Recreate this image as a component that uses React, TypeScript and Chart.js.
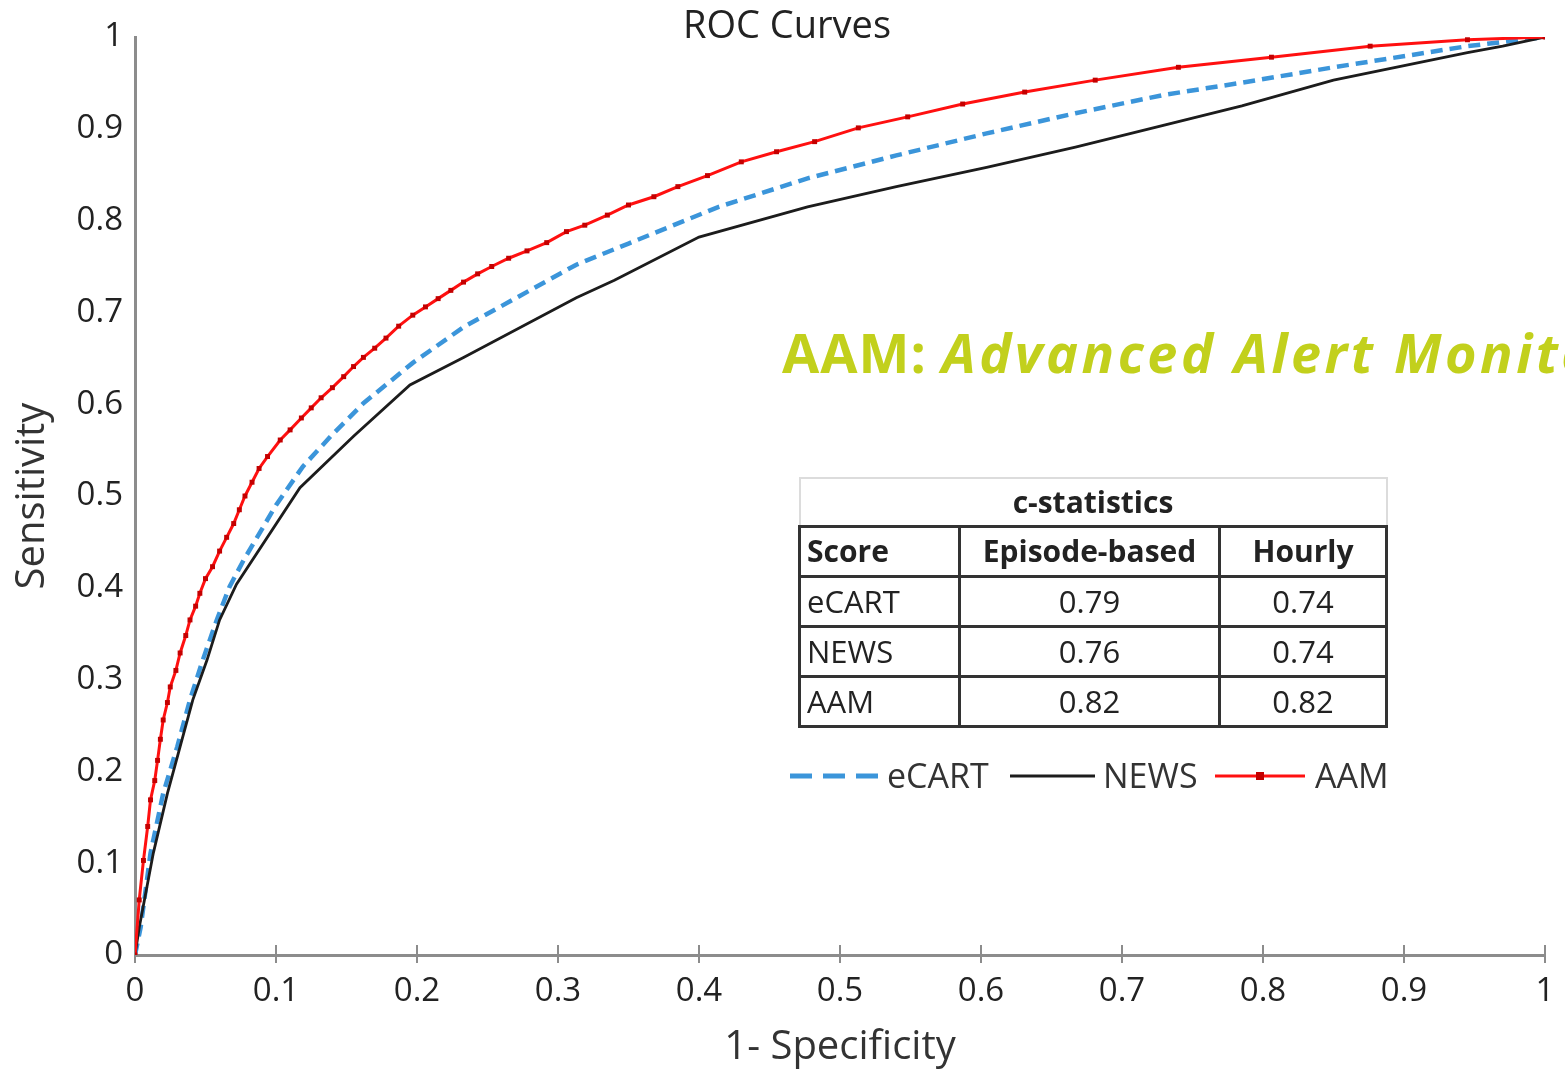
import React, { useEffect, useRef } from 'react';
import { Chart, registerables } from 'chart.js';

Chart.register(...registerables);

const xTickLabels = ['0', '0.1', '0.2', '0.3', '0.4', '0.5', '0.6', '0.7', '0.8', '0.9', '1'];
const yTickLabels = ['0', '0.1', '0.2', '0.3', '0.4', '0.5', '0.6', '0.7', '0.8', '0.9', '1'];

const ecartX = [0, 0.004, 0.011, 0.02, 0.03, 0.039, 0.048, 0.058, 0.067, 0.077, 0.1, 0.119, 0.14, 0.162, 0.197, 0.233, 0.28, 0.313, 0.35, 0.414, 0.477, 0.54, 0.604, 0.667, 0.73, 0.784, 0.85, 0.945, 1];
const ecartY = [0, 0.03, 0.111, 0.176, 0.227, 0.278, 0.321, 0.365, 0.401, 0.43, 0.49, 0.532, 0.567, 0.601, 0.645, 0.684, 0.724, 0.752, 0.775, 0.815, 0.846, 0.871, 0.895, 0.917, 0.937, 0.95, 0.967, 0.99, 1];

const newsX = [0, 0.003, 0.013, 0.023, 0.032, 0.041, 0.051, 0.06, 0.072, 0.117, 0.155, 0.195, 0.233, 0.313, 0.34, 0.4, 0.477, 0.54, 0.604, 0.667, 0.73, 0.785, 0.85, 0.945, 0.97, 1];
const newsY = [0, 0.03, 0.111, 0.176, 0.227, 0.278, 0.321, 0.365, 0.404, 0.509, 0.565, 0.621, 0.651, 0.716, 0.735, 0.782, 0.815, 0.837, 0.858, 0.88, 0.904, 0.925, 0.953, 0.983, 0.99, 1];

const aamX = [0, 0.003, 0.006, 0.009, 0.011, 0.014, 0.016, 0.018, 0.02, 0.023, 0.025, 0.029, 0.032, 0.036, 0.039, 0.043, 0.046, 0.05, 0.055, 0.06, 0.065, 0.07, 0.074, 0.078, 0.083, 0.088, 0.094, 0.103, 0.11, 0.118, 0.125, 0.132, 0.14, 0.148, 0.155, 0.162, 0.17, 0.178, 0.187, 0.197, 0.206, 0.215, 0.224, 0.233, 0.243, 0.253, 0.265, 0.278, 0.292, 0.306, 0.319, 0.335, 0.35, 0.368, 0.385, 0.406, 0.43, 0.455, 0.482, 0.513, 0.548, 0.587, 0.631, 0.681, 0.74, 0.806, 0.876, 0.945, 1];
const aamY = [0, 0.06, 0.103, 0.14, 0.169, 0.19, 0.212, 0.235, 0.256, 0.275, 0.292, 0.31, 0.329, 0.348, 0.365, 0.38, 0.394, 0.41, 0.423, 0.44, 0.455, 0.47, 0.485, 0.5, 0.515, 0.53, 0.543, 0.561, 0.572, 0.585, 0.596, 0.607, 0.618, 0.63, 0.641, 0.651, 0.661, 0.672, 0.685, 0.697, 0.706, 0.715, 0.724, 0.733, 0.742, 0.75, 0.759, 0.767, 0.776, 0.788, 0.795, 0.806, 0.817, 0.826, 0.837, 0.849, 0.864, 0.875, 0.886, 0.901, 0.913, 0.927, 0.94, 0.953, 0.967, 0.978, 0.99, 0.997, 1];

const seriesNames = ['eCART', 'NEWS', 'AAM'];
const tableTitle = 'c-statistics';
const tableHeader = ['Score', 'Episode-based', 'Hourly'];
const episodeBased = ['0.79', '0.76', '0.82'];
const hourly = ['0.74', '0.74', '0.82'];

const FONT = '"Open Sans", sans-serif';

function pts(xs: number[], ys: number[]) {
  return xs.map((x, i) => ({ x, y: ys[i] }));
}

export default function App() {
  const ref = useRef<HTMLCanvasElement>(null);

  useEffect(() => {
    document.body.style.margin = '0';
    const tickMarks = {
      id: 'tickMarks',
      beforeDatasetsDraw(chart: any) {
        const xs = chart.scales.x;
        const ctx = chart.ctx;
        ctx.save();
        ctx.strokeStyle = '#8c8c8c';
        ctx.lineWidth = 2;
        xs.ticks.forEach((t: any) => {
          const px = Math.round(xs.getPixelForValue(t.value));
          ctx.beginPath();
          ctx.moveTo(px, xs.top - 10);
          ctx.lineTo(px, xs.top + 8);
          ctx.stroke();
        });
        ctx.restore();
      },
    };
    const chart = new Chart(ref.current!, {
      type: 'line',
      data: {
        datasets: [
          {
            label: seriesNames[0],
            data: pts(ecartX, ecartY),
            borderColor: '#3b95da',
            borderWidth: 4.5,
            borderDash: [12, 7],
            pointRadius: 0,
            tension: 0,
            order: 2,
          },
          {
            label: seriesNames[1],
            data: pts(newsX, newsY),
            borderColor: '#1c1c1c',
            borderWidth: 2.8,
            pointRadius: 0,
            tension: 0,
            order: 1,
          },
          {
            label: seriesNames[2],
            data: pts(aamX, aamY),
            borderColor: '#ff1010',
            borderWidth: 3,
            pointRadius: 3.5,
            pointStyle: 'rect',
            pointBackgroundColor: '#c40000',
            pointBorderColor: '#c40000',
            pointBorderWidth: 0,
            tension: 0,
            order: 0,
          },
        ],
      },
      options: {
        animation: false,
        responsive: false,
        events: [],
        layout: { padding: { top: 37, right: 20, left: 0, bottom: 0 } },
        plugins: { legend: { display: false }, tooltip: { enabled: false }, title: { display: false } },
        scales: {
          x: {
            type: 'linear',
            min: 0,
            max: 1,
            grid: { display: false, drawTicks: false },
            border: { display: true, color: '#8c8c8c', width: 3 },
            ticks: {
              stepSize: 0.1,
              autoSkip: false,
              maxRotation: 0,
              padding: 17,
              color: '#222',
              font: { family: FONT, size: 33 },
              callback: (_v: any, i: number) => xTickLabels[i],
            },
            title: {
              display: true,
              text: '1- Specificity',
              color: '#333',
              font: { family: FONT, size: 40 },
              padding: { top: 0, bottom: 0 },
            },
            afterFit: (s: any) => {
              s.height = 117;
              s.paddingLeft = 0;
              s.paddingRight = 0;
            },
          },
          y: {
            type: 'linear',
            min: 0,
            max: 1,
            grid: { display: false, drawTicks: false },
            border: { display: true, color: '#8c8c8c', width: 3 },
            ticks: {
              stepSize: 0.1,
              autoSkip: false,
              padding: 12,
              color: '#222',
              font: { family: FONT, size: 33 },
              callback: (_v: any, i: number) => yTickLabels[i],
            },
            title: {
              display: true,
              text: 'Sensitivity',
              color: '#333',
              font: { family: FONT, size: 40 },
              padding: { top: 9, bottom: 0 },
            },
            afterFit: (s: any) => {
              s.width = 135;
              s.paddingTop = 0;
              s.paddingBottom = 0;
            },
          },
        },
      },
      plugins: [tickMarks],
    } as any);
    return () => chart.destroy();
  }, []);

  const cellBorder = '3px solid #333';
  const cell: React.CSSProperties = { border: cellBorder, padding: 0, lineHeight: 1, fontSize: 31, textAlign: 'center' };

  return (
    <div style={{ position: 'relative', width: 1565, height: 1072, overflow: 'hidden', background: '#fff' }}>
      <canvas ref={ref} width={1565} height={1072} style={{ position: 'absolute', left: 0, top: 0 }} />
      <div style={{ position: 'absolute', left: 787, top: 4, transform: 'translateX(-50%)', fontFamily: FONT, fontSize: 38, lineHeight: 1, color: '#222', whiteSpace: 'nowrap' }}>
        ROC Curves
      </div>
      <div style={{ position: 'absolute', left: 782, top: 325, fontFamily: FONT, fontWeight: 700, fontSize: 54, lineHeight: 1, letterSpacing: 1, color: '#c2d01c', whiteSpace: 'nowrap' }}>
        AAM: <span style={{ fontStyle: 'italic', letterSpacing: 3.5 }}>Advanced Alert Monitoring</span>
      </div>
      <table style={{ position: 'absolute', left: 798, top: 477, width: 587, borderCollapse: 'collapse', tableLayout: 'fixed', fontFamily: FONT, color: '#222' }}>
        <colgroup>
          <col style={{ width: 160 }} />
          <col style={{ width: 260 }} />
          <col style={{ width: 167 }} />
        </colgroup>
        <tbody>
          <tr style={{ height: 48 }}>
            <td colSpan={3} style={{ ...cell, fontSize: 30, border: '2px solid #dcdcdc', borderBottom: cellBorder, fontWeight: 700 }}>{tableTitle}</td>
          </tr>
          <tr style={{ height: 50 }}>
            {tableHeader.map((h, i) => (
              <td key={h} style={{ ...cell, fontSize: 30, fontWeight: 700, textAlign: i === 0 ? 'left' : 'center', paddingLeft: i === 0 ? 6 : 0 }}>{h}</td>
            ))}
          </tr>
          {seriesNames.map((s, r) => (
            <tr key={s} style={{ height: 50 }}>
              <td style={{ ...cell, textAlign: 'left', paddingLeft: 6 }}>{s}</td>
              <td style={cell}>{episodeBased[r]}</td>
              <td style={cell}>{hourly[r]}</td>
            </tr>
          ))}
        </tbody>
      </table>
      <svg width={1565} height={1072} style={{ position: 'absolute', left: 0, top: 0, pointerEvents: 'none' }}>
        <line x1={790} y1={776} x2={878} y2={776} stroke="#3b95da" strokeWidth={5} strokeDasharray="22 11" />
        <line x1={1010} y1={776} x2={1095} y2={776} stroke="#1c1c1c" strokeWidth={3} />
        <line x1={1215} y1={776} x2={1305} y2={776} stroke="#ff1010" strokeWidth={3} />
        <rect x={1256} y={772} width={8} height={8} fill="#c40000" />
      </svg>
      {seriesNames.map((s, i) => (
        <div key={s} style={{ position: 'absolute', left: [887, 1103, 1315][i], top: 758, fontFamily: FONT, fontSize: 34, lineHeight: '34px', color: '#333', whiteSpace: 'nowrap' }}>
          {s}
        </div>
      ))}
    </div>
  );
}
